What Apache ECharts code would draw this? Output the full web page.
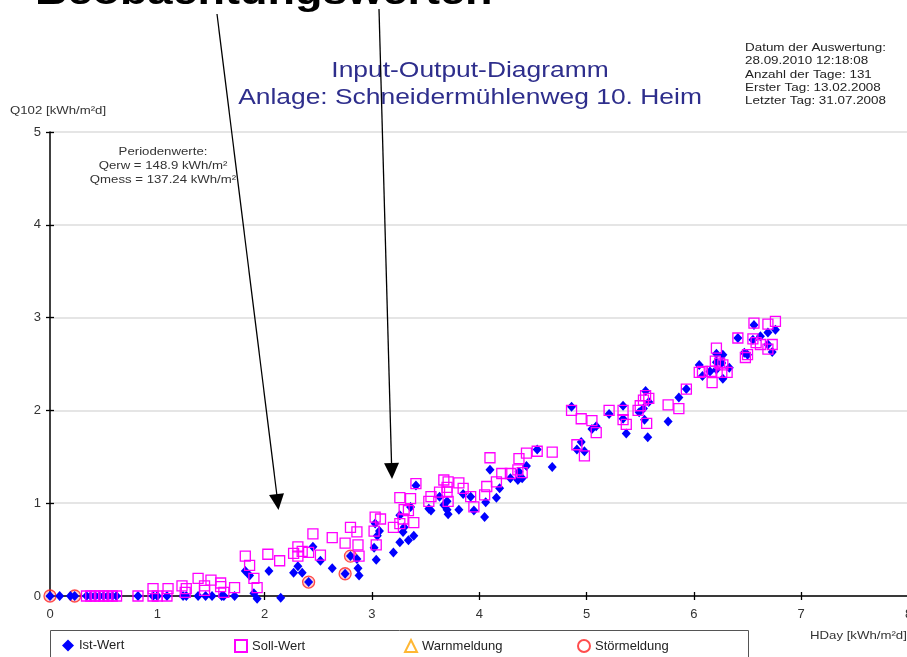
<!DOCTYPE html>
<html>
<head>
<meta charset="utf-8">
<script src="https://cdn.jsdelivr.net/npm/echarts@6/dist/echarts.min.js"></script>
<style>
  html, body { margin: 0; padding: 0; background: #fff; }
  #chart { width: 907px; height: 657px; }
</style>
</head>
<body>
<div id="chart"></div>
<script>
// Daily values: [HDay, Q102] in kWh/m²d
const istWert = [
  [0, 0], [0.09, 0], [0.19, 0], [0.23, 0], [0.34, 0], [0.38, 0], [0.42, 0], [0.46, 0],
  [0.50, 0], [0.54, 0], [0.58, 0], [0.62, 0], [0.82, 0], [0.96, 0], [1.00, 0], [1.09, 0],
  [1.24, 0], [1.27, 0], [1.38, 0], [1.45, 0], [1.51, 0], [1.60, 0], [1.62, 0], [1.72, 0],
  [1.90, 0.03], [1.93, -0.03], [2.15, -0.02],
  [1.82, 0.27], [1.86, 0.22], [2.04, 0.27], [2.27, 0.25], [2.31, 0.32], [2.35, 0.25],
  [2.41, 0.15], [2.45, 0.53], [2.52, 0.38], [2.63, 0.30], [2.75, 0.24], [2.80, 0.43],
  [2.86, 0.40], [2.87, 0.30], [2.88, 0.22], [3.02, 0.52], [3.03, 0.78], [3.04, 0.39],
  [3.05, 0.65], [3.07, 0.70], [3.20, 0.47], [3.26, 0.58], [3.26, 0.87], [3.29, 0.69],
  [3.30, 0.74], [3.34, 0.60], [3.36, 0.96], [3.39, 0.65], [3.41, 1.19], [3.53, 0.94],
  [3.55, 0.92], [3.63, 1.07], [3.67, 0.98], [3.70, 1.02], [3.70, 0.93], [3.71, 0.88],
  [3.81, 0.93], [3.85, 1.10], [3.92, 1.07], [3.95, 0.92], [4.05, 0.85], [4.06, 1.01],
  [4.10, 1.36], [4.16, 1.06], [4.19, 1.16], [4.29, 1.27], [4.36, 1.25], [4.37, 1.34],
  [4.40, 1.27], [4.44, 1.40], [4.54, 1.58], [4.68, 1.39], [4.86, 2.04], [4.91, 1.58],
  [4.95, 1.66], [4.98, 1.56], [5.05, 1.80], [5.09, 1.83], [5.21, 1.96], [5.34, 2.05],
  [5.34, 1.91], [5.37, 1.75], [5.49, 1.98], [5.53, 2.02], [5.54, 1.90], [5.55, 2.21],
  [5.58, 2.09], [5.57, 1.71], [5.76, 1.88], [5.86, 2.14], [5.93, 2.23], [6.05, 2.49],
  [6.08, 2.37], [6.15, 2.42], [6.21, 2.61], [6.27, 2.60], [6.21, 2.52], [6.26, 2.51],
  [6.21, 2.44], [6.27, 2.34], [6.33, 2.46], [6.41, 2.78], [6.47, 2.62], [6.50, 2.60],
  [6.56, 2.92], [6.55, 2.76], [6.62, 2.80], [6.69, 2.84], [6.76, 2.87], [6.69, 2.71],
  [6.73, 2.63]
];

const sollWert = [
  [0.34, 0], [0.38, 0], [0.42, 0], [0.46, 0], [0.50, 0], [0.54, 0], [0.58, 0], [0.62, 0],
  [0.82, 0], [0.96, 0], [1.00, 0], [1.09, 0],
  [0.96, 0.08], [1.10, 0.08], [1.23, 0.11], [1.27, 0.08], [1.26, 0.04], [1.38, 0.19],
  [1.44, 0.11], [1.44, 0.06], [1.50, 0.17], [1.59, 0.14], [1.59, 0.10], [1.62, 0.04],
  [1.72, 0.09], [1.82, 0.43], [1.86, 0.33], [1.90, 0.19], [1.93, 0.09], [2.03, 0.45],
  [2.14, 0.38], [2.27, 0.46], [2.31, 0.53], [2.35, 0.48], [2.41, 0.47], [2.31, 0.43],
  [2.45, 0.67], [2.52, 0.44], [2.63, 0.63], [2.75, 0.57], [2.80, 0.74], [2.86, 0.69],
  [2.87, 0.55], [2.88, 0.43], [3.02, 0.70], [3.03, 0.85], [3.08, 0.83], [3.04, 0.55],
  [3.20, 0.74], [3.26, 0.78], [3.29, 0.83], [3.34, 0.92], [3.30, 0.93], [3.39, 0.79],
  [3.26, 1.06], [3.36, 1.05], [3.41, 1.21], [3.53, 1.02], [3.55, 1.07], [3.63, 1.12],
  [3.67, 1.25], [3.71, 1.23], [3.70, 1.17], [3.70, 1.12], [3.71, 1.02], [3.81, 1.22],
  [3.85, 1.16], [3.92, 1.07], [3.95, 0.96], [4.05, 1.09], [4.07, 1.18], [4.16, 1.23],
  [4.21, 1.32], [4.10, 1.49], [4.29, 1.32], [4.36, 1.36], [4.40, 1.33], [4.37, 1.48],
  [4.44, 1.54], [4.54, 1.56], [4.68, 1.55], [4.86, 2.00], [4.95, 1.91], [4.91, 1.63],
  [4.98, 1.51], [5.05, 1.89], [5.09, 1.76], [5.21, 2.00], [5.34, 2.00], [5.34, 1.90],
  [5.37, 1.85], [5.48, 2.00], [5.50, 2.05], [5.53, 2.11], [5.55, 2.16], [5.58, 2.13],
  [5.56, 1.86], [5.76, 2.06], [5.86, 2.02], [5.93, 2.23], [6.05, 2.41], [6.08, 2.42],
  [6.16, 2.42], [6.17, 2.30], [6.20, 2.53], [6.21, 2.67], [6.24, 2.51], [6.27, 2.49],
  [6.26, 2.41], [6.31, 2.41], [6.41, 2.78], [6.48, 2.57], [6.50, 2.60], [6.55, 2.77],
  [6.56, 2.94], [6.58, 2.73], [6.62, 2.71], [6.69, 2.66], [6.69, 2.93], [6.73, 2.71],
  [6.76, 2.96]
];

const warnmeldung = [];

const stoermeldung = [[0, 0], [0.23, 0], [2.41, 0.15], [2.75, 0.24], [2.80, 0.43]];

const titleLines = ['Input-Output-Diagramm', 'Anlage: Schneidermühlenweg 10. Heim'];
const infoLines = [
  'Datum der Auswertung:',
  '28.09.2010 12:18:08',
  'Anzahl der Tage: 131',
  'Erster Tag: 13.02.2008',
  'Letzter Tag: 31.07.2008'
];
const periodLines = ['Periodenwerte:', 'Qerw = 148.9 kWh/m²', 'Qmess = 137.24 kWh/m²'];
const seriesNames = ['Ist-Wert', 'Soll-Wert', 'Warnmeldung', 'Störmeldung'];
const xTicks = { min: 0, max: 8, interval: 1 };
const yTicks = { min: 0, max: 5, interval: 1 };

const FONT = '"Liberation Sans", Arial, sans-serif';
const chart = echarts.init(document.getElementById('chart'), null, { renderer: 'canvas' });

function stretchedText(x, y, text, size, color, align, weight, sx) {
  return {
    type: 'text', x: x, y: y, scaleX: sx || 1.2, z: 50,
    style: {
      text: text, fill: color, font: (weight || 'normal') + ' ' + size + 'px ' + FONT,
      align: align || 'left', verticalAlign: 'middle'
    }
  };
}

function arrow(x1, y1, x2, y2, tip) {
  const dx = tip[0] - x1, dy = tip[1] - y1;
  const len = Math.sqrt(dx * dx + dy * dy);
  const ux = dx / len, uy = dy / len;
  const hl = 16, hw = 7.5;
  const bx = tip[0] - ux * hl, by = tip[1] - uy * hl;
  return [
    { type: 'line', z: 60, shape: { x1: x1, y1: y1, x2: x2, y2: y2 },
      style: { stroke: '#000', lineWidth: 1.3 } },
    { type: 'polygon', z: 60,
      shape: { points: [tip, [bx + uy * hw, by - ux * hw], [bx - uy * hw, by + ux * hw]] },
      style: { fill: '#000' } }
  ];
}

const graphics = [];
graphics.push(stretchedText(35, -6.5, 'Beobachtungswerten', 37.5, '#000', 'left', 'bold', 1.2));
titleLines.forEach((t, i) => graphics.push(stretchedText(470, 71 + i * 27, t, 22, '#2e2e8c', 'center')));
infoLines.forEach((t, i) => graphics.push(stretchedText(745, 48 + i * 13.3, t, 11, '#222', 'left', 'normal', 1.22)));
periodLines.forEach((t, i) => graphics.push(stretchedText(163, 152 + i * 14, t, 11, '#333', 'center', 'normal', 1.2)));
graphics.push(stretchedText(10, 111, 'Q102 [kWh/m²d]', 11, '#333', 'left', 'normal', 1.2));
graphics.push(stretchedText(810, 636, 'HDay [kWh/m²d]', 11, '#333', 'left', 'normal', 1.2));
graphics.push({
  type: 'rect', z: 5, shape: { x: 50.5, y: 630.5, width: 698, height: 40 },
  style: { fill: 'none', stroke: '#555', lineWidth: 1 }
});
arrow(217, 14, 277, 496, [278.5, 510]).forEach(g => graphics.push(g));
arrow(379, 9, 391.6, 466, [392, 479]).forEach(g => graphics.push(g));

// legend entries laid out at a fixed pitch; the fault marker is shown as a plain ring
const legendLefts = [62, 234, 404, 577];
const legends = seriesNames.map((n, i) => ({
  data: [i === 3 ? { name: n, itemStyle: { color: 'rgba(255,255,255,0)' } } : n],
  left: legendLefts[i], top: 639, padding: 0,
  itemWidth: 12, itemHeight: 12, itemGap: 5,
  textStyle: { fontFamily: FONT, fontSize: 13, color: '#222' }
}));

const axisLabel = { fontFamily: FONT, fontSize: 13, color: '#333' };

chart.setOption({
  animation: false,
  backgroundColor: '#fff',
  grid: { left: 50, top: 132, width: 858.5, height: 464, containLabel: false, outerBoundsMode: 'none' },
  legend: legends,
  graphic: graphics,
  xAxis: [
    {
      type: 'value', min: xTicks.min, max: xTicks.max, interval: xTicks.interval,
      axisLine: { lineStyle: { color: '#000', width: 1.5 } },
      axisTick: { show: true, length: 4, lineStyle: { color: '#000', width: 1.3 } },
      axisLabel: Object.assign({ margin: 12 }, axisLabel),
      splitLine: { show: false }
    },
    {
      type: 'value', min: xTicks.min, max: xTicks.max, interval: xTicks.interval,
      position: 'bottom', offset: 0,
      axisLine: { show: false },
      axisTick: { show: true, inside: true, length: 4, lineStyle: { color: '#000', width: 1.3 } },
      axisLabel: { show: false }, splitLine: { show: false }
    }
  ],
  yAxis: [
    {
      type: 'value', min: yTicks.min, max: yTicks.max, interval: yTicks.interval,
      axisLine: { show: true, lineStyle: { color: '#000', width: 1.5 } },
      axisTick: { show: true, length: 4, lineStyle: { color: '#000', width: 1.3 } },
      axisLabel: Object.assign({ margin: 9 }, axisLabel),
      splitLine: { show: true, lineStyle: { color: '#dddddd', width: 1.5 } }
    },
    {
      type: 'value', min: yTicks.min, max: yTicks.max, interval: yTicks.interval,
      position: 'left', offset: 0,
      axisLine: { show: false },
      axisTick: { show: true, inside: true, length: 4, lineStyle: { color: '#000', width: 1.3 } },
      axisLabel: { show: false }, splitLine: { show: false }
    }
  ],
  series: [
    {
      name: seriesNames[0], type: 'scatter', data: istWert, clip: false, z: 3,
      symbol: 'diamond', symbolSize: [9, 10],
      itemStyle: { color: '#0000ff', opacity: 1 }
    },
    {
      name: seriesNames[1], type: 'scatter', data: sollWert, clip: false, z: 4,
      symbol: 'rect', symbolSize: 10,
      itemStyle: { color: 'rgba(255,255,255,0)', borderColor: '#ff00ff', borderWidth: 1.3, opacity: 1 }
    },
    {
      name: seriesNames[2], type: 'scatter', data: warnmeldung, clip: false, z: 4,
      symbol: 'triangle', symbolSize: 11,
      itemStyle: { color: 'rgba(255,255,255,0)', borderColor: '#ffa500', borderWidth: 1.3 }
    },
    {
      name: seriesNames[3], type: 'scatter', data: stoermeldung, clip: false, z: 2,
      symbol: 'circle', symbolSize: 12,
      itemStyle: { color: 'rgba(255,90,90,0.35)', borderColor: '#ff2020', borderWidth: 1.3 }
    }
  ]
});
</script>
</body>
</html>
